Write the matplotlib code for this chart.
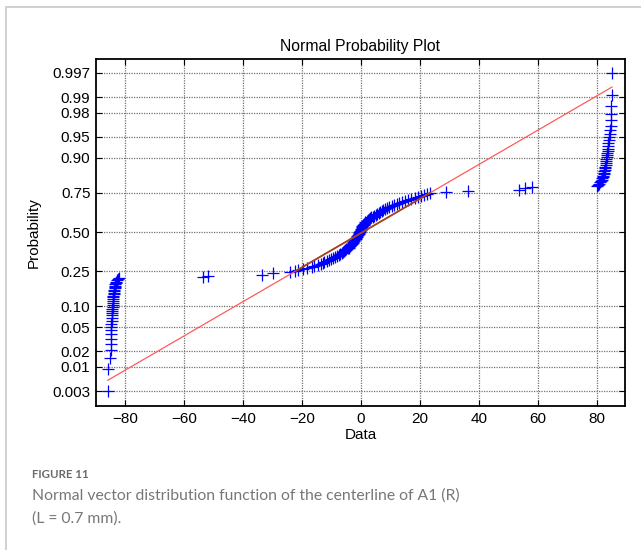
import matplotlib
matplotlib.use('Agg')
import matplotlib.pyplot as plt
import numpy as np
from statistics import NormalDist
from matplotlib.patches import Rectangle

# sorted sample values (n = 166)
left_cluster = [-85.8, -85.6, -84.9, -84.8, -84.8, -84.7, -84.7, -84.6, -84.6, -84.6,
                -84.5, -84.5, -84.4, -84.4, -84.3, -84.3, -84.2, -84.2, -84.1, -84.1,
                -84.0, -84.0, -83.9, -83.8, -83.7, -83.7, -83.6, -83.5, -83.4, -83.3,
                -83.2, -83.0, -82.9, -82.6, -82.3, -81.9]
low_outliers = [-53.5, -52.0, -33.6, -29.8, -24.1, -22.2]
center_band = [-21.5, -19.8, -18.2, -16.5, -15.9, -14.6, -13.7, -13.0, -12.4, -11.5,
               -10.9, -10.1, -9.5, -8.9, -8.2, -7.6, -7.0, -6.5, -6.2, -5.8,
               -5.3, -4.9, -4.5, -4.2, -3.9, -3.6, -3.3, -3.0, -2.8, -2.6,
               -2.4, -2.2, -2.0, -1.8, -1.6, -1.4, -1.2, -1.0, -0.8, -0.6,
               -0.5, -0.3, -0.2, -0.1, 0.1, 0.2, 0.4, 0.5, 0.7, 0.9,
               1.1, 1.3, 1.5, 1.9, 2.3, 2.7, 3.1, 3.5, 4.0, 4.5,
               5.0, 5.5, 6.0, 6.5, 7.1, 7.6, 8.2, 8.8, 9.6, 10.4,
               11.2, 12.1, 13.0, 14.0, 15.0, 16.0, 17.1, 18.3, 19.3, 20.3,
               21.4, 22.4, 23.4]
high_outliers = [29.0, 36.3, 53.6, 55.6, 57.9]
right_cluster = [80.0, 80.4, 80.8, 81.1, 81.4, 81.6, 81.8, 82.0, 82.1, 82.3,
                 82.4, 82.5, 82.6, 82.7, 82.8, 82.9, 83.0, 83.1, 83.2, 83.3,
                 83.4, 83.5, 83.6, 83.7, 83.8, 83.9, 84.0, 84.1, 84.3, 84.4,
                 84.6, 84.7, 84.8, 84.9, 85.0, 85.1]

prob_ticks = [0.003, 0.01, 0.02, 0.05, 0.10, 0.25, 0.50, 0.75, 0.90, 0.95, 0.98, 0.99, 0.997]
prob_labels = ['0.003', '0.01', '0.02', '0.05', '0.10', '0.25', '0.50',
               '0.75', '0.90', '0.95', '0.98', '0.99', '0.997']
x_ticks = [-80, -60, -40, -20, 0, 20, 40, 60, 80]

nd = NormalDist()
data = np.sort(np.array(left_cluster + low_outliers + center_band + high_outliers + right_cluster))
n = len(data)
z = np.array([nd.inv_cdf((i - 0.5) / n) for i in range(1, n + 1)])

# reference line through the quartiles (as normplot does)
q1, q3 = np.percentile(data, [25, 75], method='hazen')
z1, z3 = nd.inv_cdf(0.25), nd.inv_cdf(0.75)
slope = (z3 - z1) / (q3 - q1)
def fit(x):
    return z1 + slope * (np.asarray(x) - q1)

plt.rcParams['font.family'] = ['Liberation Sans', 'DejaVu Sans']

fig = plt.figure(figsize=(6.41, 5.5), dpi=100)
ax = fig.add_axes([0.1498, 0.2618, 0.8252, 0.6309])

ax.plot(data, z, '+', color='#0000ff', markersize=9, mew=0.9, zorder=3)
xe = np.array([data.min(), data.max()])
ax.plot(xe, fit(xe), color='#ff5a5a', lw=0.9, zorder=4)
xq = np.array([q1, q3])
ax.plot(xq, fit(xq), color='#a0461e', lw=1.3, zorder=5)

ax.set_xlim(-89.8, 89.5)
ax.set_ylim(-3.0, 2.983)
ax.set_xticks(x_ticks)
ax.set_yticks([nd.inv_cdf(p) for p in prob_ticks])
ax.set_yticklabels(prob_labels)
ax.tick_params(direction='in', top=True, right=True, length=4, width=0.8,
               labelsize=11, colors='black', pad=4)
ax.grid(True, color='0.45', ls=(0, (1, 1)), lw=0.9)
for s in ax.spines.values():
    s.set_linewidth(1.3)

ax.set_title('Normal Probability Plot', fontsize=11.3, pad=6)
ax.set_xlabel('Data', fontsize=11, labelpad=2)
ax.set_ylabel('Probability', fontsize=11, labelpad=8)

# page frame and caption
fig.add_artist(Rectangle((6 / 641, -0.1), 1.2, 1.1 - 7 / 550, transform=fig.transFigure,
                         fill=False, edgecolor='#c8c8c8', lw=1.2))
fig.text(32 / 641, 1 - 475 / 550, 'FIGURE 11', fontsize=8.3, color='#6a6a6a',
         family=['Lato', 'DejaVu Sans'], fontweight='bold', va='center')
fig.text(32 / 641, 1 - 496 / 550, 'Normal vector distribution function of the centerline of A1 (R)',
         fontsize=11.3, color='#777777', family=['Lato', 'DejaVu Sans'], va='center')
fig.text(32 / 641, 1 - 519 / 550, '(L = 0.7 mm).',
         fontsize=11.3, color='#777777', family=['Lato', 'DejaVu Sans'], va='center')

fig.savefig('out.png', dpi=100)
